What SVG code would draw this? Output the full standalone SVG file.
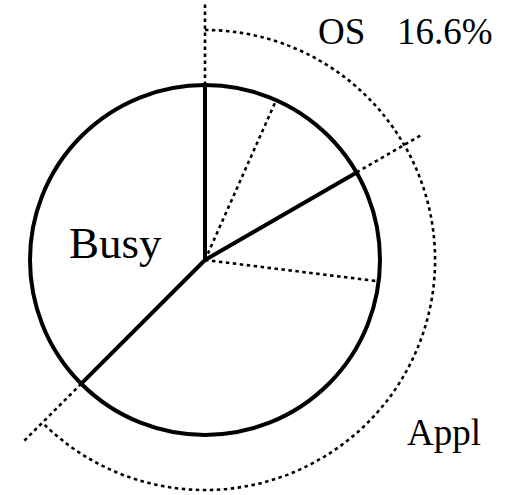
<svg xmlns="http://www.w3.org/2000/svg" width="508" height="495" viewBox="0 0 508 495">
  <style>
    .solid { fill: none; stroke: #000; stroke-width: 4; stroke-linecap: round; }
    .dotted { fill: none; stroke: #000; stroke-width: 2.6; stroke-dasharray: 3.5 3.5; }
    .label { font-family: "Liberation Serif", "Times New Roman", serif; fill: #000; }
  </style>
  <rect width="508" height="495" fill="#fff"/>

  <!-- pie chart: center (205,260), radius 175 -->
  <g id="pie">
    <circle cx="205" cy="260" r="175" class="solid" stroke-width="4.5"/>
  </g>

  <g id="connectors">
    <!-- solid sector boundaries -->
    <line x1="205" y1="260" x2="205" y2="85" class="solid"/>
    <line x1="205" y1="260" x2="356.6" y2="172.5" class="solid"/>
    <line x1="205" y1="260" x2="81.3" y2="383.7" class="solid"/>
    <!-- dotted inner subdivisions -->
    <line x1="205" y1="260" x2="276.2" y2="100.1" class="dotted"/>
    <line x1="205" y1="260" x2="378.7" y2="281.3" class="dotted"/>
    <!-- dotted extensions beyond the circle -->
    <line x1="205" y1="85" x2="205" y2="4" class="dotted"/>
    <line x1="356.6" y1="172.5" x2="421.5" y2="135" class="dotted"/>
    <line x1="81.3" y1="383.7" x2="22" y2="443" class="dotted"/>
    <!-- outer dotted arc (Appl span) -->
    <path d="M205,30 A230,230 0 1 1 42.4,422.6" class="dotted"/>
  </g>

  <g id="label-os">
    <text x="318" y="44" class="label" font-size="37">OS</text>
    <text x="397" y="44" class="label" font-size="37">16.6%</text>
  </g>
  <g id="label-busy">
    <text x="69" y="258" class="label" font-size="45">Busy</text>
  </g>
  <g id="label-appl">
    <text x="407" y="445" class="label" font-size="37">Appl</text>
  </g>
</svg>
